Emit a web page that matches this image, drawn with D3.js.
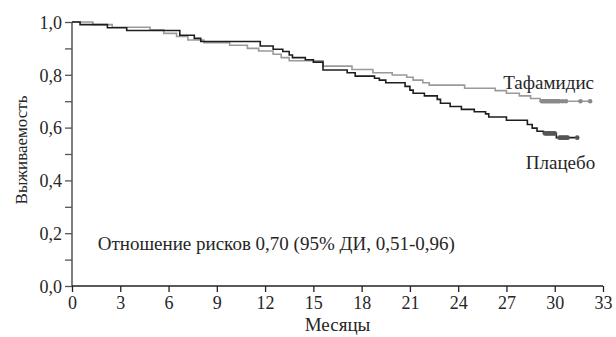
<!DOCTYPE html>
<html>
<head>
<meta charset="utf-8">
<script src="https://cdn.jsdelivr.net/npm/d3@7"></script>
<style>
  body { margin: 0; background: #fff; }
  svg text { font-family: "Liberation Serif", "DejaVu Serif", serif; fill: #262626; }
</style>
</head>
<body>
<div id="chart"></div>
<script>
// Kaplan-Meier survival, tafamidis vs placebo
const margin = { top: 22, right: 13, bottom: 51, left: 72 };
const width = 616 - margin.left - margin.right;
const height = 337 - margin.top - margin.bottom;

// step times (months) and survival after each step
const placeboTimes = [0, 0.5, 2.2, 3.4, 6.7, 7.6, 8.0, 11.7, 12.5, 13.1, 13.5, 13.7, 14.5, 15.0, 15.6, 17.1, 17.6, 18.8, 19.1, 19.5, 20.7, 21.0, 21.2, 21.9, 22.7, 22.9, 23.5, 24.2, 25.0, 25.7, 25.9, 27.0, 28.3, 28.6, 28.9, 29.3, 30.1, 31.4];
const placeboSurv  = [1.0, 0.99, 0.978, 0.968, 0.95, 0.938, 0.926, 0.909, 0.897, 0.888, 0.875, 0.865, 0.857, 0.848, 0.818, 0.808, 0.795, 0.787, 0.78, 0.77, 0.756, 0.742, 0.73, 0.72, 0.707, 0.692, 0.68, 0.669, 0.66, 0.652, 0.64, 0.628, 0.612, 0.598, 0.586, 0.578, 0.562, 0.562];

const tafamidisTimes = [0, 1.3, 2.5, 4.85, 5.7, 6.5, 7.2, 8.2, 9.8, 10.9, 11.6, 12.5, 13.0, 13.5, 15.6, 17.4, 18.7, 19.9, 20.8, 21.2, 21.8, 22.2, 24.4, 26.3, 27.0, 27.8, 28.5, 29.1, 32.2];
const tafamidisSurv  = [1.0, 0.99, 0.98, 0.97, 0.957, 0.945, 0.932, 0.922, 0.912, 0.9, 0.89, 0.878, 0.865, 0.853, 0.833, 0.82, 0.808, 0.799, 0.791, 0.78, 0.77, 0.761, 0.749, 0.74, 0.73, 0.72, 0.71, 0.70, 0.70];

// censored observations (months)
const placeboCensor = [29.4, 29.5, 29.6, 29.7, 29.8, 29.9, 30.0, 30.3, 30.4, 30.5, 30.6, 30.7, 30.8, 31.4];
const tafamidisCensor = [29.2, 29.3, 29.4, 29.5, 29.6, 29.7, 29.8, 29.9, 30.0, 30.1, 30.2, 30.3, 30.5, 30.7, 31.6, 32.2];

const xTicks = [0, 3, 6, 9, 12, 15, 18, 21, 24, 27, 30, 33];
const yTicks = [0, 0.1, 0.2, 0.3, 0.4, 0.5, 0.6, 0.7, 0.8, 0.9, 1.0];

const svg = d3.select('#chart')
  .append('svg')
  .attr('width', width + margin.left + margin.right)
  .attr('height', height + margin.top + margin.bottom)
  .append('g')
  .attr('transform', `translate(${margin.left},${margin.top})`);

const xScale = d3.scaleLinear().domain([0, 33]).range([0, width]);
const yScale = d3.scaleLinear().domain([0, 1]).range([height, 0]);

const fmt = d => d.toFixed(1).replace('.', ',');

// Axes
const yAxis = d3.axisLeft(yScale)
  .tickValues(yTicks)
  .tickSize(7)
  .tickPadding(3)
  .tickFormat(d => Math.round(d * 10) % 2 === 0 ? fmt(d) : '');

const xAxis = d3.axisBottom(xScale)
  .tickValues(xTicks)
  .tickSize(6)
  .tickPadding(4)
  .tickFormat(d => d);

const gy = svg.append('g').call(yAxis);
gy.select('.domain').attr('d', `M0,0V${height}`).attr('stroke', '#555').attr('stroke-width', 1.5);
gy.selectAll('.tick line').attr('stroke', '#555').attr('stroke-width', 1.3);
gy.selectAll('.tick text').style('font-size', '18px').attr('dy', '0.35em');

const gx = svg.append('g').attr('transform', `translate(0,${height})`).call(xAxis);
gx.select('.domain').attr('d', `M0,0H${width}`).attr('stroke', '#222').attr('stroke-width', 1.5);
gx.selectAll('.tick line').attr('stroke', '#222').attr('stroke-width', 1.3);
gx.selectAll('.tick text').style('font-size', '18px');

// Axis labels
svg.append('text')
  .attr('transform', 'rotate(-90)')
  .attr('x', -128)
  .attr('y', -margin.left + 27)
  .style('text-anchor', 'middle')
  .style('font-size', '17px')
  .text('Выживаемость');

svg.append('text')
  .attr('x', width / 2)
  .attr('y', height + 45)
  .style('text-anchor', 'middle')
  .style('font-size', '19px')
  .text('Месяцы');

// Survival curves
const line = d3.line()
  .x(d => xScale(d[0]))
  .y(d => yScale(d[1]))
  .curve(d3.curveStepAfter);

const series = [
  { times: tafamidisTimes, surv: tafamidisSurv, censor: tafamidisCensor, color: '#9a9a9a', mark: '#8a8a8a' },
  { times: placeboTimes, surv: placeboSurv, censor: placeboCensor, color: '#1e1e1e', mark: '#555' }
];

series.forEach(s => {
  const pts = s.times.map((t, i) => [t, s.surv[i]]);
  svg.append('path')
    .datum(pts)
    .attr('d', line)
    .attr('fill', 'none')
    .attr('stroke', s.color)
    .attr('stroke-width', 1.6);

  // survival value at a censor time
  const survAt = t => {
    let v = s.surv[0];
    s.times.forEach((tt, i) => { if (tt <= t) v = s.surv[i]; });
    return v;
  };
  svg.selectAll(null)
    .data(s.censor)
    .enter().append('circle')
    .attr('cx', d => xScale(d))
    .attr('cy', d => yScale(survAt(d)))
    .attr('r', 2.3)
    .attr('fill', s.mark);
});

// Curve labels
svg.append('text')
  .attr('x', xScale(26.8))
  .attr('y', yScale(0.746))
  .style('font-size', '19px')
  .text('Тафамидис');

svg.append('text')
  .attr('x', xScale(28.2))
  .attr('y', yScale(0.443))
  .style('font-size', '19px')
  .text('Плацебо');

// Hazard ratio annotation
svg.append('text')
  .attr('x', xScale(1.6))
  .attr('y', yScale(0.136))
  .style('font-size', '19px')
  .text('Отношение рисков 0,70 (95% ДИ, 0,51-0,96)');
</script>
</body>
</html>
